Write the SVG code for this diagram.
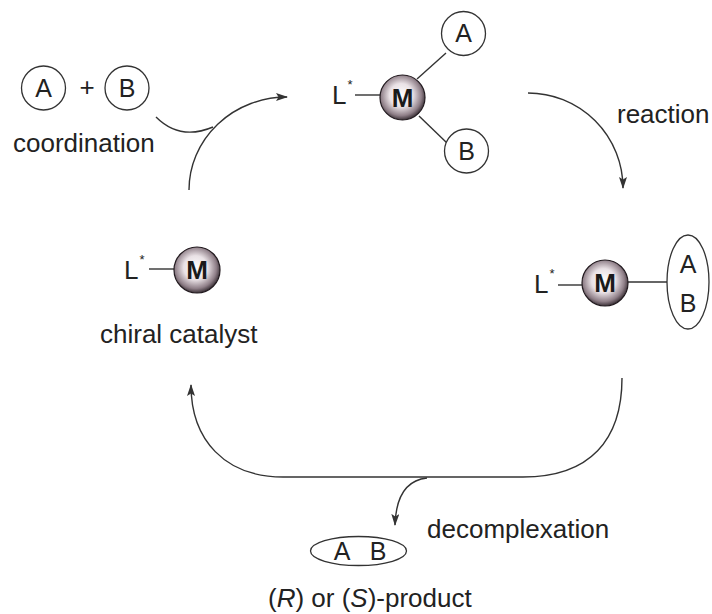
<svg xmlns="http://www.w3.org/2000/svg" width="712" height="614" viewBox="0 0 712 614">
<style>
  .t { font-family: "Liberation Sans", Arial, sans-serif; font-size: 26px; fill: #222; }
  .lt { font-family: "Liberation Sans", Arial, sans-serif; font-size: 25px; fill: #222; text-anchor: middle; }
  .m { font-family: "Liberation Sans", Arial, sans-serif; font-size: 26px; font-weight: bold; fill: #1a1a1a; text-anchor: middle; }
  .ring { fill: #fff; stroke: #333; stroke-width: 1.3; }
  .bond { stroke: #333; stroke-width: 1.4; fill: none; }
  .arc { stroke: #333; stroke-width: 1.4; fill: none; }
  .ball { fill: url(#sph); stroke: #231b20; stroke-width: 1.2; }
</style>
<defs>
  <radialGradient id="sph" cx="0.47" cy="0.45" r="0.58">
    <stop offset="0" stop-color="#ffffff"/>
    <stop offset="0.45" stop-color="#e9e1e5"/>
    <stop offset="0.78" stop-color="#8f7f88"/>
    <stop offset="1" stop-color="#231b20"/>
  </radialGradient>
  <marker id="ah" viewBox="0 0 12 8" refX="11" refY="4" markerWidth="12" markerHeight="8" markerUnits="userSpaceOnUse" orient="auto">
    <path d="M0,0 L12,4 L0,8 L2.5,4 z" fill="#333"/>
  </marker>
</defs>
<rect width="712" height="614" fill="#fff"/>

<g id="connectors">
  <path class="arc" d="M189,190 A98,93 0 0 1 287,97" marker-end="url(#ah)"/>
  <path class="arc" d="M156,117 Q180,141 213,127"/>
  <path class="arc" d="M528,93 A95,95 0 0 1 623,188" marker-end="url(#ah)"/>
  <path class="arc" d="M622,378 C622,440 590,477 523,477 L283,477 C225,477 191,440 191,385" marker-end="url(#ah)"/>
  <path class="arc" d="M427,478 C408,480 396,494 395,525" marker-end="url(#ah)"/>
</g>

<g id="reactants">
  <circle class="ring" cx="43.5" cy="88" r="22"/>
  <text class="lt" x="43.5" y="97">A</text>
  <text class="t" x="87" y="96" font-size="22" text-anchor="middle">+</text>
  <circle class="ring" cx="127" cy="88" r="22"/>
  <text class="lt" x="127" y="97">B</text>
</g>
<g id="label-coordination"><text class="t" x="13" y="152">coordination</text></g>

<g id="complex-top">
  <line class="bond" x1="355" y1="95" x2="380" y2="95"/>
  <line class="bond" x1="417" y1="79" x2="446" y2="53"/>
  <line class="bond" x1="419" y1="116" x2="447" y2="143"/>
  <text class="t" x="332" y="104">L<tspan font-size="13" dx="1" dy="-15">*</tspan></text>
  <circle class="ball" cx="402.5" cy="97.5" r="22.5"/>
  <text class="m" x="402.5" y="106.5">M</text>
  <circle class="ring" cx="463.5" cy="33.5" r="22"/>
  <text class="lt" x="463.5" y="42">A</text>
  <circle class="ring" cx="466.5" cy="151" r="22"/>
  <text class="lt" x="466.5" y="160">B</text>
</g>
<g id="label-reaction"><text class="t" x="617" y="123">reaction</text></g>

<g id="complex-right">
  <line class="bond" x1="558" y1="285" x2="582" y2="285"/>
  <line class="bond" x1="628" y1="282" x2="667" y2="282"/>
  <text class="t" x="534" y="293">L<tspan font-size="13" dx="1" dy="-15">*</tspan></text>
  <circle class="ball" cx="605" cy="283" r="23"/>
  <text class="m" x="605" y="292">M</text>
  <ellipse class="ring" cx="688" cy="282" rx="21" ry="47"/>
  <text class="lt" x="688" y="273">A</text>
  <text class="lt" x="688" y="312">B</text>
</g>

<g id="catalyst">
  <line class="bond" x1="149" y1="269" x2="174" y2="269"/>
  <text class="t" x="124" y="279">L<tspan font-size="13" dx="1" dy="-15">*</tspan></text>
  <circle class="ball" cx="197" cy="270" r="23"/>
  <text class="m" x="197" y="279">M</text>
</g>
<g id="label-catalyst"><text class="t" x="100" y="343">chiral catalyst</text></g>

<g id="label-decomplexation"><text class="t" x="427" y="538">decomplexation</text></g>

<g id="product">
  <ellipse class="ring" cx="358.5" cy="551" rx="48" ry="14.5"/>
  <text class="lt" x="342" y="560">A</text>
  <text class="lt" x="378" y="560">B</text>
</g>
<g id="label-product"><text class="t" x="268" y="607">(<tspan font-style="italic">R</tspan>) or (<tspan font-style="italic">S</tspan>)-product</text></g>
</svg>
